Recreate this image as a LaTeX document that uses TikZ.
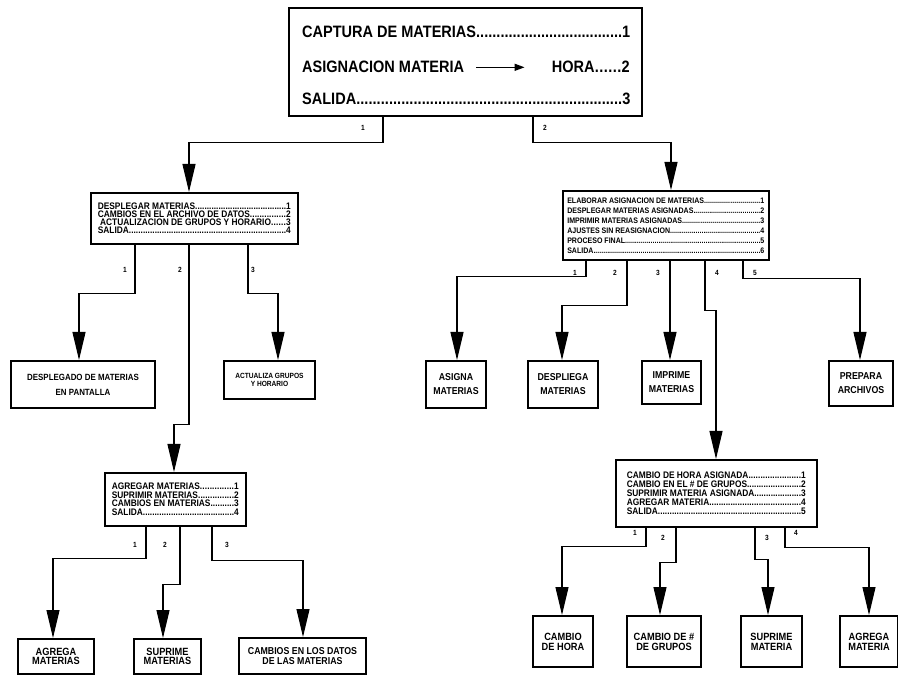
\documentclass[tikz,border=0pt]{standalone}
\usepackage{fontspec}
\newfontfamily\cf[FakeStretch=0.88]{Liberation Sans}
\usetikzlibrary{arrows.meta}
% a menu entry: text, dotted leader, option number, in a box of fixed width
\newcommand\lnitem[3]{\hbox to #1{#2\xleaders\hbox{.}\hfill #3}}

\tikzset{
  wire/.style={line width=1.1pt},
  arr/.style={wire, -{Triangle[length=28pt,width=13pt]}},
  wh/.style 2 args={minimum width=#1pt, minimum height=#2pt},
  lf/.style 2 args={font=\cf\bfseries\fontsize{#1}{#2}\selectfont},
  menubox/.style={draw, line width=1.6pt, inner sep=0pt, anchor=north west, align=left},
  leafbox/.style={draw, line width=2pt, inner sep=0pt, anchor=north west, align=center},
  topfont/.style={font=\cf\bfseries\fontsize{16.5}{18}\selectfont, inner sep=0pt},
  num/.style={font=\cf\bfseries\fontsize{7.5}{8}\selectfont, inner sep=0pt},
}

\begin{document}
\begin{tikzpicture}[x=1pt, y=-1pt]
\useasboundingbox[fill=white] (0,0) rectangle (898,676);

% ---- main menu ----
\node[menubox, wh={353}{108}] (main) at (288,7) {};
\node[topfont, anchor=base west] (cap) at (302,38) {\lnitem{328pt}{CAPTURA DE MATERIAS}{1}};
\node[topfont, anchor=base west] (asg) at (302,73) {ASIGNACION MATERIA};
\node[topfont, anchor=base east] (hora) at (630,73) {\lnitem{78pt}{HORA}{2}};
\node[topfont, anchor=base west] (sal) at (302,105) {\lnitem{328pt}{SALIDA}{3}};
\draw[line width=1.4pt, -{Triangle[length=10pt,width=7pt]}] ([xshift=12pt]asg.east) -- ([xshift=-27pt]hora.west);

% ---- second level menus ----
\node[menubox, wh={207}{51}, lf={9.5}{8}] (L) at (90,192)
  {\lnitem{193pt}{DESPLEGAR MATERIAS}{1}\\
   \lnitem{193pt}{CAMBIOS EN EL ARCHIVO DE DATOS}{2}\\
   \lnitem{193pt}{\ ACTUALIZACION DE GRUPOS Y HORARIO}{3}\\
   \lnitem{193pt}{SALIDA}{4}};

\node[menubox, wh={206}{69}, lf={8}{10}] (R) at (562,190)
  {\lnitem{197pt}{ELABORAR ASIGNACION DE MATERIAS}{1}\\
   \lnitem{197pt}{DESPLEGAR MATERIAS ASIGNADAS}{2}\\
   \lnitem{197pt}{IMPRIMIR MATERIAS ASIGNADAS}{3}\\
   \lnitem{197pt}{AJUSTES SIN REASIGNACION}{4}\\
   \lnitem{197pt}{PROCESO FINAL}{5}\\
   \lnitem{197pt}{SALIDA}{6}};

% ---- third level menus ----
\node[menubox, wh={141}{53}, lf={9.5}{8.7}] (LA) at (104,472)
  {\lnitem{127pt}{AGREGAR MATERIAS}{1}\\
   \lnitem{127pt}{SUPRIMIR MATERIAS}{2}\\
   \lnitem{127pt}{CAMBIOS EN MATERIAS}{3}\\
   \lnitem{127pt}{SALIDA}{4}};

\node[menubox, wh={201}{67}, lf={9.5}{9}] (RC) at (615,459)
  {\lnitem{179pt}{CAMBIO DE HORA ASIGNADA}{1}\\
   \lnitem{179pt}{CAMBIO EN EL \# DE GRUPOS}{2}\\
   \lnitem{179pt}{SUPRIMIR MATERIA ASIGNADA}{3}\\
   \lnitem{179pt}{AGREGAR MATERIA}{4}\\
   \lnitem{179pt}{SALIDA}{5}};

% ---- processes ----
\node[leafbox, wh={144}{47}, lf={9}{15}]    (L1) at (10,360)  {DESPLEGADO DE MATERIAS\\EN PANTALLA};
\node[leafbox, wh={91}{38},  lf={7.5}{8.5}] (L3) at (223,360) {ACTUALIZA GRUPOS\\Y HORARIO};

\node[leafbox, wh={60}{47}, lf={10}{14}] (R1) at (425,360) {ASIGNA\\MATERIAS};
\node[leafbox, wh={70}{47}, lf={10}{14}] (R2) at (527,360) {DESPLIEGA\\MATERIAS};
\node[leafbox, wh={59}{43}, lf={10}{14}] (R3) at (641,360) {IMPRIME\\MATERIAS};
\node[leafbox, wh={64}{45}, lf={10}{14}] (R5) at (828,360) {PREPARA\\ARCHIVOS};

\node[leafbox, wh={76}{35},  lf={10.5}{9.5}] (LA1) at (17,638)  {AGREGA\\MATERIAS};
\node[leafbox, wh={67}{35},  lf={10.5}{9.5}] (LA2) at (133,638) {SUPRIME\\MATERIAS};
\node[leafbox, wh={127}{36}, lf={10}{9.5}]   (LA3) at (238,637) {CAMBIOS EN LOS DATOS\\DE LAS MATERIAS};

\node[leafbox, wh={60}{51}, lf={10.5}{10}] (RC1) at (532,615) {CAMBIO\\DE HORA};
\node[leafbox, wh={74}{51}, lf={10.5}{10}] (RC2) at (626,615) {CAMBIO DE \#\\DE GRUPOS};
\node[leafbox, wh={61}{51}, lf={10.5}{10}] (RC3) at (740,615) {SUPRIME\\MATERIA};
\node[leafbox, wh={58}{51}, lf={10.5}{10}] (RC4) at (839,615) {AGREGA\\MATERIA};

% ---- connectors ----
\draw[arr] ([xshift=95pt]main.south west)  -- ++(0,26) -| ([xshift=99pt]L.north west);
\draw[arr] ([xshift=245pt]main.south west) -- ++(0,26) -| ([xshift=109pt]R.north west);

\draw[arr] ([xshift=45pt]L.south west)  -- ++(0,49)  -| ([xshift=69pt]L1.north west);
\draw[arr] ([xshift=99pt]L.south west)  -- ++(0,180) -| ([xshift=70pt]LA.north west);
\draw[arr] ([xshift=158pt]L.south west) -- ++(0,49)  -| ([xshift=55pt]L3.north west);

\draw[arr] ([xshift=24pt]R.south west)  -- ++(0,16) -| ([xshift=32pt]R1.north west);
\draw[arr] ([xshift=65pt]R.south west)  -- ++(0,45) -| ([xshift=35pt]R2.north west);
\draw[arr] ([xshift=108pt]R.south west) -- ([xshift=29pt]R3.north west);
\draw[arr] ([xshift=143pt]R.south west) -- ++(0,50) -| ([xshift=101pt]RC.north west);
\draw[arr] ([xshift=181pt]R.south west) -- ++(0,18) -| ([xshift=32pt]R5.north west);

\draw[arr] ([xshift=42pt]LA.south west)  -- ++(0,32) -| ([xshift=36pt]LA1.north west);
\draw[arr] ([xshift=76pt]LA.south west)  -- ++(0,58) -| ([xshift=30pt]LA2.north west);
\draw[arr] ([xshift=108pt]LA.south west) -- ++(0,34) -| ([xshift=65pt]LA3.north west);

\draw[arr] ([xshift=31pt]RC.south west)  -- ++(0,19) -| ([xshift=30pt]RC1.north west);
\draw[arr] ([xshift=61pt]RC.south west)  -- ++(0,35) -| ([xshift=34pt]RC2.north west);
\draw[arr] ([xshift=140pt]RC.south west) -- ++(0,32) -| ([xshift=28pt]RC3.north west);
\draw[arr] ([xshift=170pt]RC.south west) -- ++(0,20) -| ([xshift=30pt]RC4.north west);

% ---- option numbers on the connectors ----
\node[num] (t1) at (363,128) {1};
\node[num] (t2) at (545,128) {2};

\node[num] (l1) at (125,270) {1};
\node[num] (l2) at (180,270) {2};
\node[num] (l3) at (253,270) {3};

\node[num] (r1) at (575,273) {1};
\node[num] (r2) at (615,273) {2};
\node[num] (r3) at (658,273) {3};
\node[num] (r4) at (717,273) {4};
\node[num] (r5) at (755,273) {5};

\node[num] (a1) at (135,545) {1};
\node[num] (a2) at (165,545) {2};
\node[num] (a3) at (227,545) {3};

\node[num] (c1) at (635,533) {1};
\node[num] (c2) at (663,538) {2};
\node[num] (c3) at (767,538) {3};
\node[num] (c4) at (796,533) {4};
\end{tikzpicture}
\end{document}
